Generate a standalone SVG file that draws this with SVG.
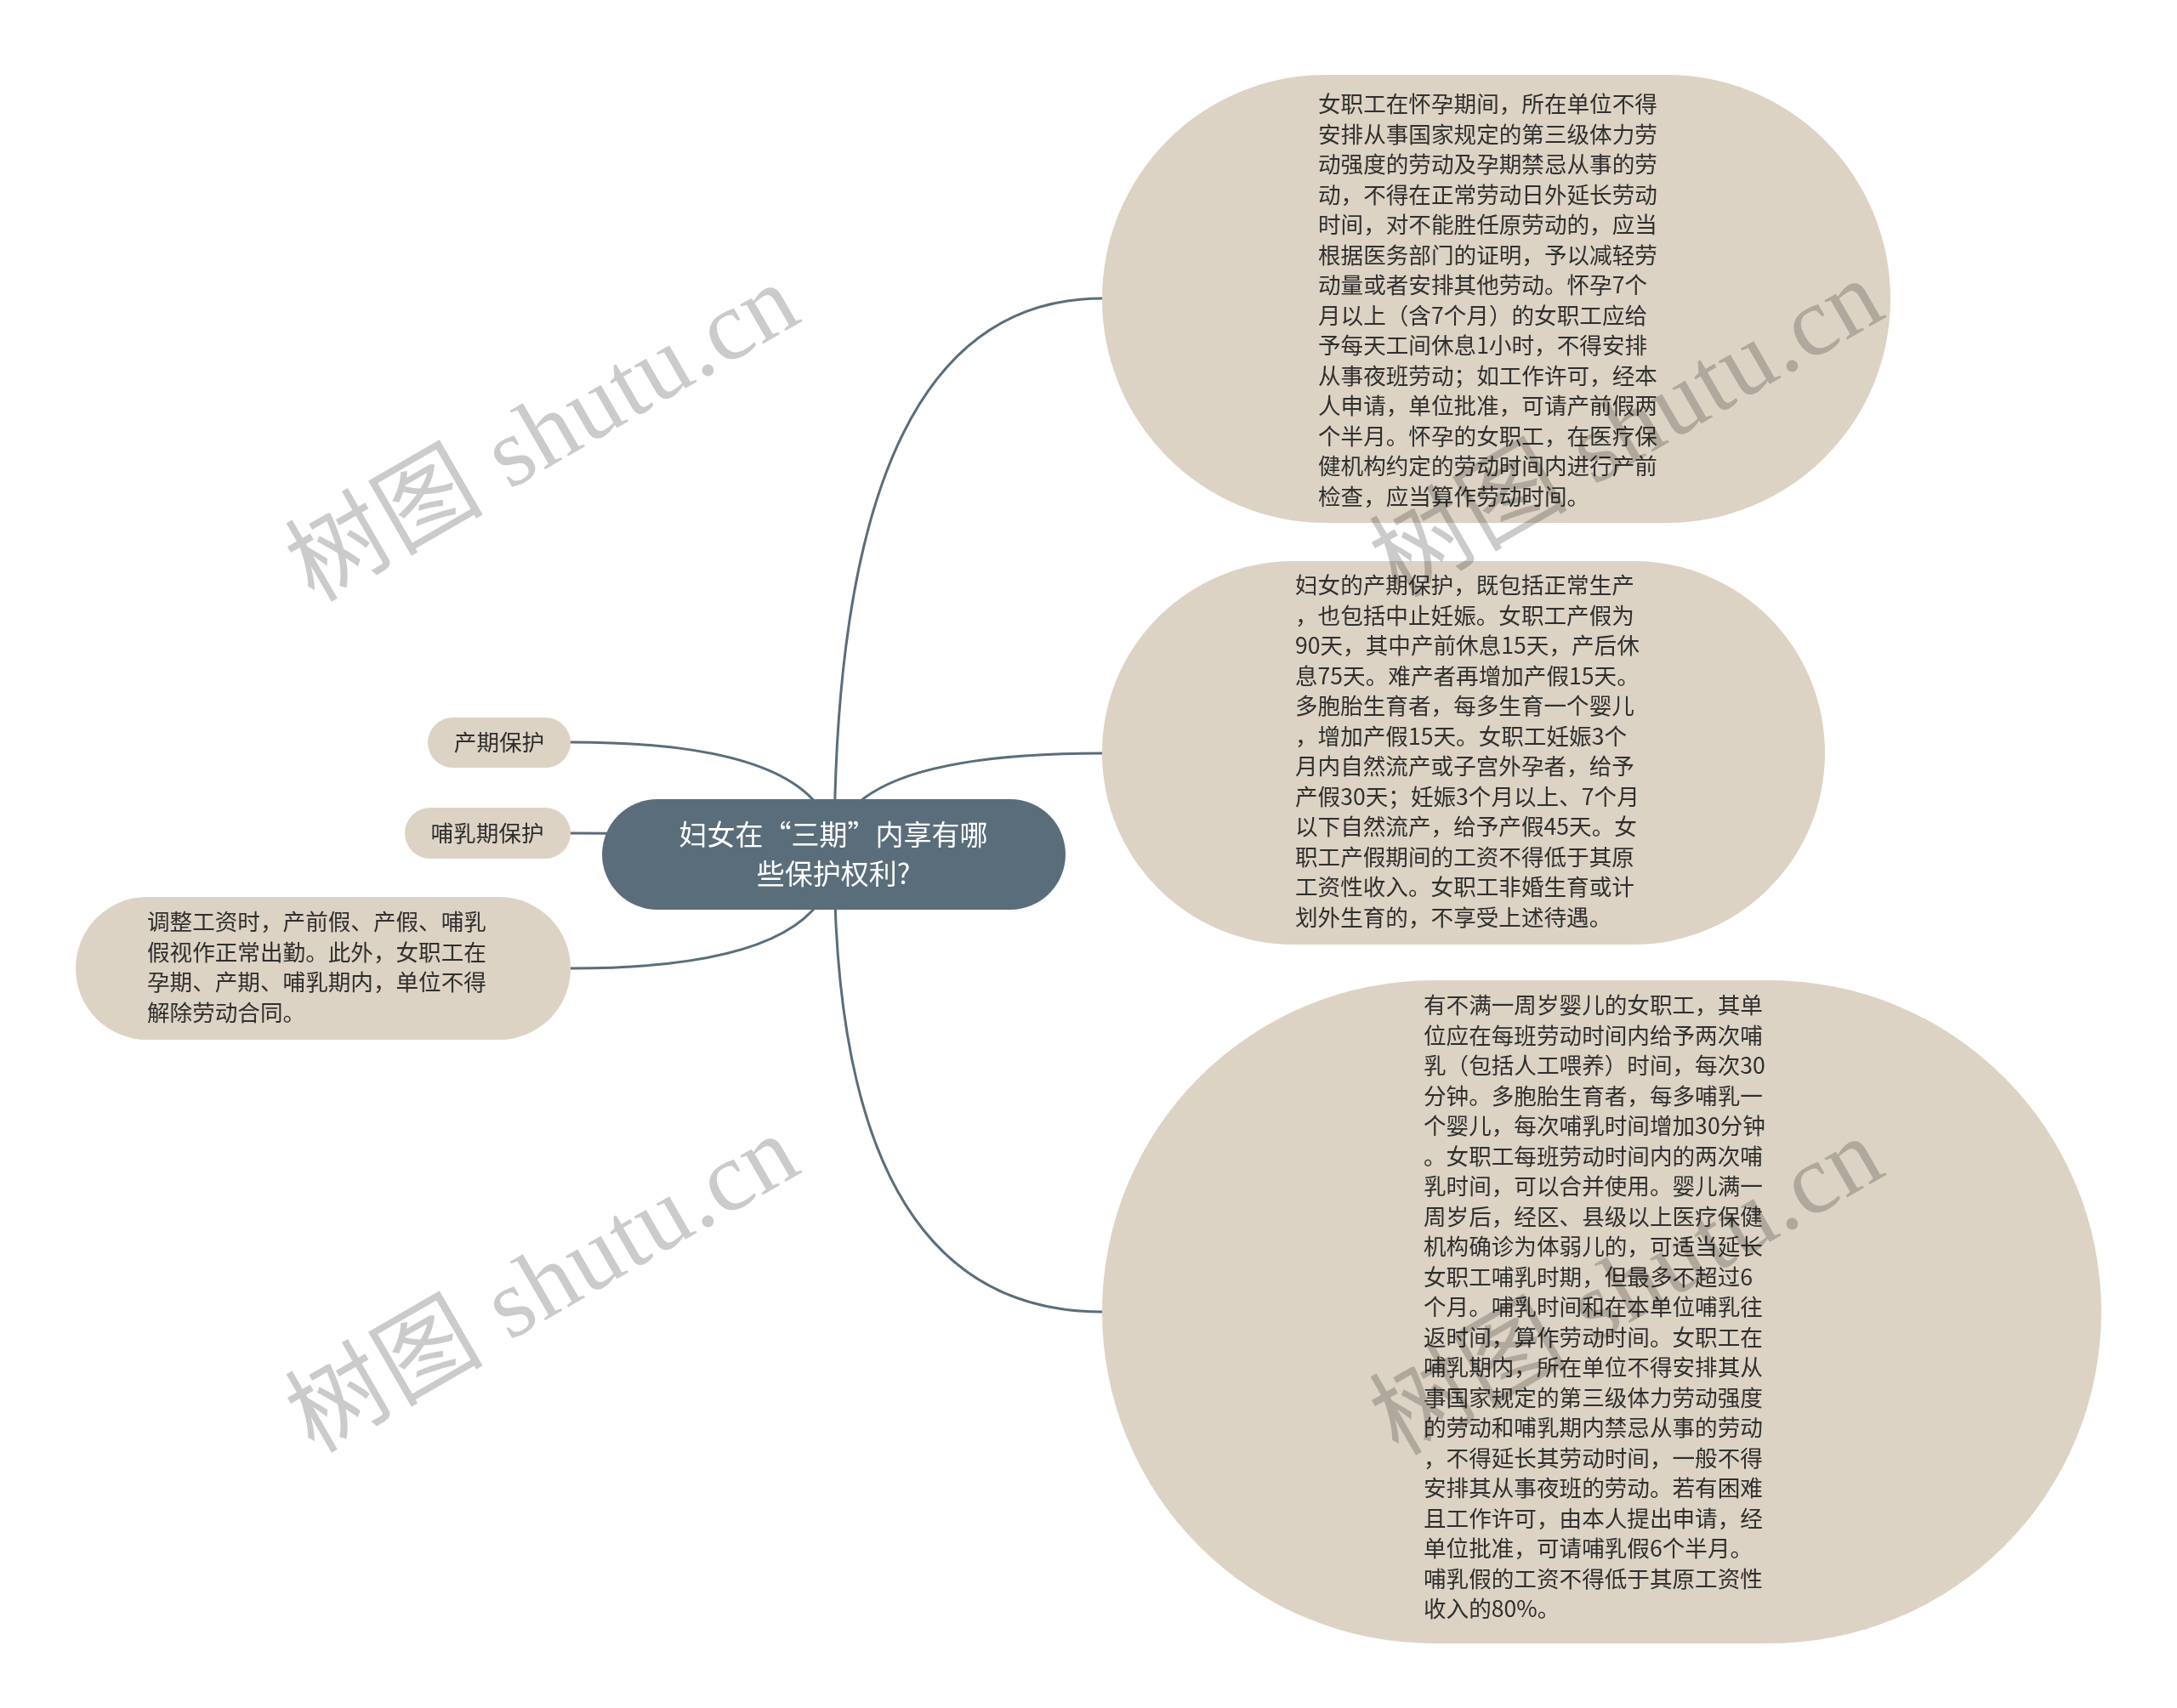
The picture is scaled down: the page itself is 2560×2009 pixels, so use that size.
<svg xmlns="http://www.w3.org/2000/svg" width="2560" height="2009" viewBox="0 0 2560 2009">
<style>
.bg{fill:#ffffff}
.leaf{fill:#ddd3c4}
.root{fill:#5a6d7a}
.conn{fill:none;stroke:#5a6d7a;stroke-width:3;stroke-linecap:round}
.t{font-family:"Noto Sans CJK SC","Noto Sans",sans-serif;font-size:26.6px;fill:#2f2f2f}
.rt{font-family:"Noto Sans CJK SC","Noto Sans",sans-serif;font-size:33px;fill:#ffffff}
.wm{font-family:"Liberation Serif","Noto Sans CJK SC",serif;font-size:116px;fill:#cbcbcb;mix-blend-mode:multiply}
</style>
<rect class="bg" x="0" y="0" width="2560" height="2009"/>
<g id="connectors">
<path class="conn" d="M 981 1005 Q 981 351 1296 351"/>
<path class="conn" d="M 981 1005 Q 981 886 1296 886"/>
<path class="conn" d="M 981 1005 Q 981 1543 1296 1543"/>
<path class="conn" d="M 981 1005 Q 981 873 671 873"/>
<path class="conn" d="M 981 1005 Q 981 980 671 980"/>
<path class="conn" d="M 981 1005 Q 981 1139 671 1139"/>
</g>
<g id="root">
<rect class="root" x="708" y="940" width="545" height="130" rx="65" ry="65"/>
<text class="rt" text-anchor="middle"><tspan x="980" y="994">妇女在“三期”内享有哪</tspan><tspan x="980" y="1040">些保护权利?</tspan></text>
</g>
<g id="node-pregnancy">
<rect class="leaf" x="1296" y="88" width="927" height="527" rx="263" ry="263"/>
<text class="t"><tspan x="1550" y="132">女职工在怀孕期间，所在单位不得</tspan><tspan x="1550" dy="35.5">安排从事国家规定的第三级体力劳</tspan><tspan x="1550" dy="35.5">动强度的劳动及孕期禁忌从事的劳</tspan><tspan x="1550" dy="35.5">动，不得在正常劳动日外延长劳动</tspan><tspan x="1550" dy="35.5">时间，对不能胜任原劳动的，应当</tspan><tspan x="1550" dy="35.5">根据医务部门的证明，予以减轻劳</tspan><tspan x="1550" dy="35.5">动量或者安排其他劳动。怀孕7个</tspan><tspan x="1550" dy="35.5">月以上（含7个月）的女职工应给</tspan><tspan x="1550" dy="35.5">予每天工间休息1小时，不得安排</tspan><tspan x="1550" dy="35.5">从事夜班劳动；如工作许可，经本</tspan><tspan x="1550" dy="35.5">人申请，单位批准，可请产前假两</tspan><tspan x="1550" dy="35.5">个半月。怀孕的女职工，在医疗保</tspan><tspan x="1550" dy="35.5">健机构约定的劳动时间内进行产前</tspan><tspan x="1550" dy="35.5">检查，应当算作劳动时间。</tspan></text>
</g>
<g id="node-maternity">
<rect class="leaf" x="1296" y="660" width="850" height="451" rx="225" ry="225"/>
<text class="t"><tspan x="1523" y="698">妇女的产期保护，既包括正常生产</tspan><tspan x="1523" dy="35.5">，也包括中止妊娠。女职工产假为</tspan><tspan x="1523" dy="35.5">90天，其中产前休息15天，产后休</tspan><tspan x="1523" dy="35.5">息75天。难产者再增加产假15天。</tspan><tspan x="1523" dy="35.5">多胞胎生育者，每多生育一个婴儿</tspan><tspan x="1523" dy="35.5">，增加产假15天。女职工妊娠3个</tspan><tspan x="1523" dy="35.5">月内自然流产或子宫外孕者，给予</tspan><tspan x="1523" dy="35.5">产假30天；妊娠3个月以上、7个月</tspan><tspan x="1523" dy="35.5">以下自然流产，给予产假45天。女</tspan><tspan x="1523" dy="35.5">职工产假期间的工资不得低于其原</tspan><tspan x="1523" dy="35.5">工资性收入。女职工非婚生育或计</tspan><tspan x="1523" dy="35.5">划外生育的，不享受上述待遇。</tspan></text>
</g>
<g id="node-nursing">
<rect class="leaf" x="1296" y="1153" width="1175" height="780" rx="390" ry="390"/>
<text class="t"><tspan x="1674" y="1192">有不满一周岁婴儿的女职工，其单</tspan><tspan x="1674" dy="35.5">位应在每班劳动时间内给予两次哺</tspan><tspan x="1674" dy="35.5">乳（包括人工喂养）时间，每次30</tspan><tspan x="1674" dy="35.5">分钟。多胞胎生育者，每多哺乳一</tspan><tspan x="1674" dy="35.5">个婴儿，每次哺乳时间增加30分钟</tspan><tspan x="1674" dy="35.5">。女职工每班劳动时间内的两次哺</tspan><tspan x="1674" dy="35.5">乳时间，可以合并使用。婴儿满一</tspan><tspan x="1674" dy="35.5">周岁后，经区、县级以上医疗保健</tspan><tspan x="1674" dy="35.5">机构确诊为体弱儿的，可适当延长</tspan><tspan x="1674" dy="35.5">女职工哺乳时期，但最多不超过6</tspan><tspan x="1674" dy="35.5">个月。哺乳时间和在本单位哺乳往</tspan><tspan x="1674" dy="35.5">返时间，算作劳动时间。女职工在</tspan><tspan x="1674" dy="35.5">哺乳期内，所在单位不得安排其从</tspan><tspan x="1674" dy="35.5">事国家规定的第三级体力劳动强度</tspan><tspan x="1674" dy="35.5">的劳动和哺乳期内禁忌从事的劳动</tspan><tspan x="1674" dy="35.5">，不得延长其劳动时间，一般不得</tspan><tspan x="1674" dy="35.5">安排其从事夜班的劳动。若有困难</tspan><tspan x="1674" dy="35.5">且工作许可，由本人提出申请，经</tspan><tspan x="1674" dy="35.5">单位批准，可请哺乳假6个半月。</tspan><tspan x="1674" dy="35.5">哺乳假的工资不得低于其原工资性</tspan><tspan x="1674" dy="35.5">收入的80%。</tspan></text>
</g>
<g id="node-chanqi">
<rect class="leaf" x="503" y="844" width="168" height="59" rx="29.5" ry="29.5"/>
<text class="t" text-anchor="middle" x="587" y="883">产期保护</text>
</g>
<g id="node-buru">
<rect class="leaf" x="476" y="950" width="195" height="60" rx="30" ry="30"/>
<text class="t" text-anchor="middle" x="573" y="990">哺乳期保护</text>
</g>
<g id="node-wage">
<rect class="leaf" x="89" y="1055" width="582" height="168" rx="84" ry="84"/>
<text class="t"><tspan x="173" y="1094">调整工资时，产前假、产假、哺乳</tspan><tspan x="173" dy="35.5">假视作正常出勤。此外，女职工在</tspan><tspan x="173" dy="35.5">孕期、产期、哺乳期内，单位不得</tspan><tspan x="173" dy="35.5">解除劳动合同。</tspan></text>
</g>
<g id="watermarks">
<text class="wm" transform="translate(638 510) rotate(-30)" x="0" y="38" text-anchor="middle" textLength="665">树图 shutu.cn</text>
<text class="wm" transform="translate(1913 505) rotate(-30)" x="0" y="38" text-anchor="middle" textLength="665">树图 shutu.cn</text>
<text class="wm" transform="translate(638 1511) rotate(-30)" x="0" y="38" text-anchor="middle" textLength="665">树图 shutu.cn</text>
<text class="wm" transform="translate(1913 1514) rotate(-30)" x="0" y="38" text-anchor="middle" textLength="665">树图 shutu.cn</text>
</g>
</svg>
